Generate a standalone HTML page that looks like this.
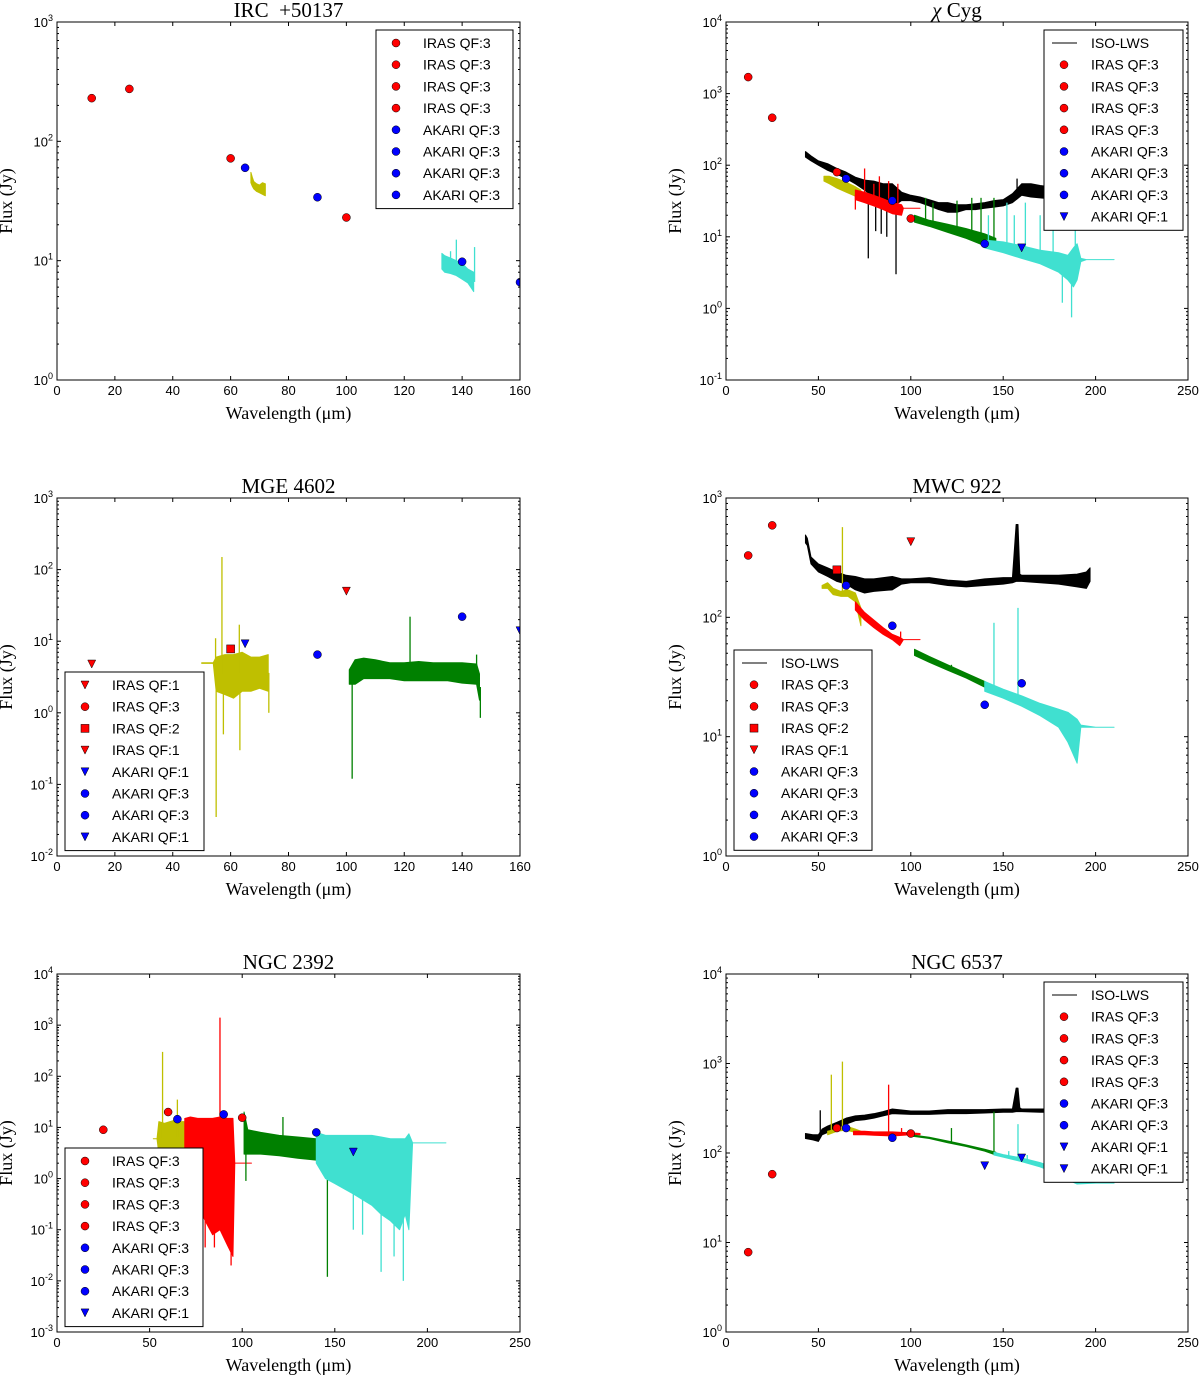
<!DOCTYPE html>
<html><head><meta charset="utf-8"><style>
html,body{margin:0;padding:0;background:#fff;}
svg{display:block;}
.tk{font:13px "Liberation Sans",sans-serif;fill:#000;}
.ttl{font:21px "Liberation Serif",serif;fill:#000;}
.axl{font:18px "Liberation Serif",serif;fill:#000;}
.lg{font:14px "Liberation Sans",sans-serif;fill:#000;}
</style></head><body>
<svg id="fig" width="1200" height="1377" viewBox="0 0 1200 1377" xmlns="http://www.w3.org/2000/svg"></svg>
<script>
// ---------- Panel 1: IRC +50137 ----------
const p1IrasX=[12,25,60,100], p1IrasY=[230,275,72,23], p1IrasShape=['o','o','o','o'];
const p1AkariX=[65,90,140,160], p1AkariY=[60,34,9.8,6.6], p1AkariShape=['o','o','o','o'];
const p1YelX=[67,67.5,68,69,70,71,72], p1YelLo=[45,42,40,38,37,36,35], p1YelHi=[55,50,46,44,43,45,44];
const p1CyaX=[133,134,136,138,140,142,144], p1CyaLo=[8.5,8,7.8,7.5,7,6.5,5.5], p1CyaHi=[11.5,11,10.5,10,9.5,8.5,8];
const p1CyaSpk=[[138,15],[144.3,13],[136,12]];
// ---------- Panel 2: chi Cyg ----------
const p2IrasX=[12,25,60,100], p2IrasY=[1700,460,80,18], p2IrasShape=['o','o','o','o'];
const p2AkariX=[65,90,140,160], p2AkariY=[65,32,8,7], p2AkariShape=['o','o','o','v'];
const p2IsoX=[43,46,50,55,60,65,70,75,80,85,90,95,100,105,110,115,120,125,130,135,140,145,150,155,160,165,170,175,180,183];
const p2IsoLo=[130,115,100,85,75,65,55,45,35,30,26,32,32,30,27,24,22,22,24,24,25,26,27,30,38,36,35,34,33,33];
const p2IsoHi=[155,135,115,105,90,80,68,62,60,55,55,42,38,36,33,30,30,28,28,29,30,32,33,40,55,55,52,50,48,48];
const p2IsoSpk=[[77,5],[92,3],[87,10],[81,12],[84,11],[157.5,65]];
const p2YelX=[53,56,60,65,70,73], p2YelLo=[60,55,48,42,37,34], p2YelHi=[70,70,65,58,50,45];
const p2RedX=[70,75,80,85,90,95,96,105], p2RedLo=[33,30,27,24,21,20,25,25], p2RedHi=[45,42,38,34,30,28,25,25];
const p2RedSpk=[[70,24],[75,90],[80,55],[83,70],[88,60],[93,55]];
const p2GrnX=[102,110,120,130,140,146], p2GrnLo=[16,14,11.5,9.5,7.5,6.5], p2GrnHi=[20,17,15,13,11,9.5];
const p2GrnSpk=[[108,35],[112,30],[125,32],[133,35],[138,35],[145,35]];
const p2CyaX=[140,150,160,170,180,185,188,190,192,195,200,210], p2CyaLo=[7,6,5,4.2,3.2,2.5,2,2.5,4.5,4.8,4.8,4.8], p2CyaHi=[9,8.5,7.5,6.5,6,5.5,7,8,5,4.8,4.8,4.8];
const p2CyaSpk=[[142,20],[152,30],[156,20],[162,30],[170,20],[177,22],[182,1.2],[187,0.75],[189,22]];
// ---------- Panel 3: MGE 4602 ----------
const p3IrasX=[12,60,100], p3IrasY=[4.8,7.8,50], p3IrasShape=['v','s','v'];
const p3AkariX=[65,90,140,160], p3AkariY=[9.2,6.5,22,14], p3AkariShape=['v','o','o','v'];
const p3YelX=[50,54,55,58,61,64,67,70,73], p3YelLo=[4.9,4.9,2,1.8,1.6,2,2,2.2,2], p3YelHi=[5,5,6,6.5,6.5,7,6,6,6.5];
const p3YelSpk=[[57,150],[55,0.035],[57.5,0.5],[63,17],[63.2,0.3],[73.2,1],[54.8,11]];
const p3GrnX=[101,103,106,110,115,120,125,130,135,140,145,146], p3GrnLo=[2.5,2.5,3,3,3,2.8,2.8,2.8,2.8,2.6,2.5,1.5], p3GrnHi=[4,5.5,5.8,5.5,5,5,5.2,5,5,5,4.8,3.5];
const p3GrnSpk=[[102,0.12],[122,22],[145,6.5],[146.3,0.85]];
// ---------- Panel 4: MWC 922 ----------
const p4IrasX=[12,25,60,100], p4IrasY=[330,590,250,430], p4IrasShape=['o','o','s','v'];
const p4AkariX=[65,90,140,160], p4AkariY=[185,85,18.5,28], p4AkariShape=['o','o','o','o'];
const p4IsoX=[43,44,46,50,55,60,65,70,75,80,90,95,100,110,120,130,140,150,155,157,158,159,160,170,180,190,195,197];
const p4IsoLo=[420,400,280,240,220,200,190,170,160,165,170,190,195,195,185,180,185,190,195,200,200,200,200,195,190,180,175,200];
const p4IsoHi=[490,460,320,280,260,240,225,220,210,210,220,210,210,215,205,200,210,215,215,600,600,230,225,225,225,230,240,260];
const p4YelX=[52,55,58,62,66,70,73], p4YelLo=[175,175,155,150,150,135,85], p4YelHi=[185,195,175,165,170,160,120];
const p4YelSpk=[[63,570]];
const p4RedX=[70,75,80,85,90,94,96,105], p4RedLo=[115,95,82,72,65,58,65,65], p4RedHi=[135,110,95,82,72,68,65,65];
const p4RedSpk=[[94.5,76]];
const p4GrnX=[102,110,120,130,140,145], p4GrnLo=[48,42,36,31,26,23], p4GrnHi=[54,47,40,34,29,26];
const p4GrnSpk=[[122,40]];
const p4CyaX=[140,150,160,170,180,185,190,192,200,210], p4CyaLo=[24,21,18,15,12,9,6,12,12,12], p4CyaHi=[29,25,22,19,17,16,14,12.5,12,12];
const p4CyaSpk=[[145,90],[158,120]];
// ---------- Panel 5: NGC 2392 ----------
const p5IrasX=[25,60,100], p5IrasY=[9,20,15.5], p5IrasShape=['o','o','o'];
const p5AkariX=[65,90,140,160], p5AkariY=[14.5,18,8,3.3], p5AkariShape=['o','o','o','v'];
const p5YelX=[52,54,55,58,61,64,67,69], p5YelLo=[6,6,3,3,3,3,3,3], p5YelHi=[6,6,13,12,13,14,13,13];
const p5YelSpk=[[57,300],[65,35]];
const p5RedX=[69,72,76,80,84,88,92,95,96,105], p5RedLo=[1,0.6,0.3,0.15,0.08,0.1,0.05,0.03,2,2], p5RedHi=[15,16,15,15,15,16,15,15,2,2];
const p5RedSpk=[[88,1400],[80,0.045],[85,0.045],[94,0.02]];
const p5GrnX=[101,103,110,120,130,140], p5GrnLo=[3,3,3,2.8,2.5,2.3], p5GrnHi=[20,9,8,7,6.5,6];
const p5GrnSpk=[[102,0.9],[122,16],[146,0.012],[145,2.5]];
const p5CyaX=[140,145,150,160,170,175,180,185,188,190,192,200,210], p5CyaLo=[2,1,0.8,0.5,0.3,0.2,0.15,0.1,0.2,0.1,5,5,5], p5CyaHi=[8,7,7,7,7,6.5,6,6,6,7.5,5,5,5];
const p5CyaSpk=[[175,0.015],[187,0.01],[182,0.03],[160,0.1],[165,0.08]];
// ---------- Panel 6: NGC 6537 ----------
const p6IrasX=[12,25,60,100], p6IrasY=[7.8,58,190,165], p6IrasShape=['o','o','o','o'];
const p6AkariX=[65,90,140,160], p6AkariY=[190,148,72,88], p6AkariShape=['o','o','v','v'];
const p6IsoX=[43,47,50,52,55,60,65,70,75,80,85,90,100,110,120,130,140,150,155,157,158,159,160,170,180];
const p6IsoLo=[145,140,135,160,170,190,210,230,235,245,260,275,270,270,275,275,280,285,285,290,290,290,290,285,285];
const p6IsoHi=[165,160,160,185,200,220,245,260,265,275,290,310,295,295,305,305,305,310,310,530,530,320,310,310,310];
const p6IsoSpk=[[51,300]];
const p6YelX=[55,60,65,70,73], p6YelLo=[160,175,180,170,165], p6YelHi=[175,185,200,185,175];
const p6YelSpk=[[57,750],[63,1050]];
const p6RedX=[69,75,80,90,100,105], p6RedLo=[160,160,158,155,160,160], p6RedHi=[175,175,172,172,168,165];
const p6RedSpk=[[88,580],[95,190]];
const p6GrnX=[100,110,120,130,140,146], p6GrnLo=[155,145,130,118,105,95], p6GrnHi=[160,150,136,123,110,102];
const p6GrnSpk=[[122,190],[145,290]];
const p6CyaX=[145,150,160,170,180,185,190,200,210], p6CyaLo=[95,90,80,70,58,50,45,46,46], p6CyaHi=[102,96,88,78,66,60,52,46,46];
const p6CyaSpk=[[153,105],[158,210],[163,95]];

// ---------- legend labels ----------
const p1Legend=['IRAS QF:3','IRAS QF:3','IRAS QF:3','IRAS QF:3','AKARI QF:3','AKARI QF:3','AKARI QF:3','AKARI QF:3'];
const p1LegendMk=['ro','ro','ro','ro','bo','bo','bo','bo'];
const p2Legend=['ISO-LWS','IRAS QF:3','IRAS QF:3','IRAS QF:3','IRAS QF:3','AKARI QF:3','AKARI QF:3','AKARI QF:3','AKARI QF:1'];
const p2LegendMk=['k-','ro','ro','ro','ro','bo','bo','bo','bv'];
const p3Legend=['IRAS QF:1','IRAS QF:3','IRAS QF:2','IRAS QF:1','AKARI QF:1','AKARI QF:3','AKARI QF:3','AKARI QF:1'];
const p3LegendMk=['rv','ro','rs','rv','bv','bo','bo','bv'];
const p4Legend=['ISO-LWS','IRAS QF:3','IRAS QF:3','IRAS QF:2','IRAS QF:1','AKARI QF:3','AKARI QF:3','AKARI QF:3','AKARI QF:3'];
const p4LegendMk=['k-','ro','ro','rs','rv','bo','bo','bo','bo'];
const p5Legend=['IRAS QF:3','IRAS QF:3','IRAS QF:3','IRAS QF:3','AKARI QF:3','AKARI QF:3','AKARI QF:3','AKARI QF:1'];
const p5LegendMk=['ro','ro','ro','ro','bo','bo','bo','bv'];
const p6Legend=['ISO-LWS','IRAS QF:3','IRAS QF:3','IRAS QF:3','IRAS QF:3','AKARI QF:3','AKARI QF:3','AKARI QF:1','AKARI QF:1'];
const p6LegendMk=['k-','ro','ro','ro','ro','bo','bo','bv','bv'];

const NS='http://www.w3.org/2000/svg';
const fig=document.getElementById('fig');
function el(tag,attrs,parent){const e=document.createElementNS(NS,tag);for(const k in attrs)e.setAttribute(k,attrs[k]);(parent||fig).appendChild(e);return e;}
const COL={y:'#bfbf00',r:'#ff0000',g:'#008000',c:'#40e0d0',k:'#000000',b:'#0000ff'};

function marker(g,x,y,shape,color){
  let m;
  if(shape==='o'){m=el('circle',{cx:x,cy:y,r:4,fill:color,stroke:'#000','stroke-width':0.5},g);}
  else if(shape==='s'){m=el('rect',{x:x-4,y:y-4,width:8,height:8,fill:color,stroke:'#000','stroke-width':0.5},g);}
  else {m=el('polygon',{points:`${x-4},${y-4} ${x+4},${y-4} ${x},${y+4}`,fill:color,stroke:'#000','stroke-width':0.5},g);}
  return m;
}

function drawPanel(c){
  const {L,R,T,B,xmax,ymin,ymax}=c;
  const sx=v=>L+(v/xmax)*(R-L);
  const sy=v=>B-(Math.log10(v)-ymin)/(ymax-ymin)*(B-T);
  const g=el('g',{});
  
  
  const cp='clip-'+c.name;
  const defs=el('defs',{},g);const clip=el('clipPath',{id:cp},defs);el('rect',{x:L,y:T,width:R-L,height:B-T},clip);
  const data=el('g',{'clip-path':`url(#${cp})`},g);
  
  
  // spectra
  c.spectra.forEach(s=>{
    let d='M'+s.x.map((x,i)=>sx(x)+','+sy(s.hi[i])).join(' L');
    d+=' L'+s.x.map((x,i)=>[x,i]).reverse().map(([x,i])=>sx(x)+','+sy(s.lo[i])).join(' L')+' Z';
    const p=el('path',{d:d,fill:COL[s.col],stroke:COL[s.col],'stroke-width':1,'stroke-linejoin':'round'},data);
    
    
    (s.spk||[]).forEach(([x,y])=>{
      let i=0;while(i<s.x.length-2&&s.x[i+1]<x)i++;
      const t=Math.max(0,Math.min(1,(x-s.x[i])/(s.x[i+1]-s.x[i])));
      const mid=Math.sqrt((s.lo[i]+(s.lo[i+1]-s.lo[i])*t)*(s.hi[i]+(s.hi[i+1]-s.hi[i])*t));
      const l=el('line',{x1:sx(x),x2:sx(x),y1:sy(mid),y2:sy(y),stroke:COL[s.col],'stroke-width':1.3},data);
      
      
    });
  });
  // photometry
  c.phot.forEach(ph=>{
    ph.x.forEach((x,i)=>{
      const m=marker(data,sx(x),sy(ph.y[i]),ph.shape[i],COL[ph.col]);
      
      
    });
  });
  // frame
  const fr=el('rect',{x:L,y:T,width:R-L,height:B-T,fill:'none',stroke:'#000','stroke-width':1},g);
  
  
  // x ticks
  for(let v=0;v<=xmax+1e-9;v+=c.xstep){
    const x=sx(v);
    el('line',{x1:x,x2:x,y1:B,y2:B-4,stroke:'#000'},g);el('line',{x1:x,x2:x,y1:T,y2:T+4,stroke:'#000'},g);
    const t=el('text',{x:x,y:B+15,'text-anchor':'middle',class:'tk'},g);t.textContent=v;
    
    
  }
  // y ticks
  for(let e=ymin;e<=ymax;e++){
    const y=sy(Math.pow(10,e));
    el('line',{x1:L,x2:L+4,y1:y,y2:y,stroke:'#000'},g);el('line',{x1:R,x2:R-4,y1:y,y2:y,stroke:'#000'},g);
    const t=el('text',{x:L-4,y:y+5,'text-anchor':'end',class:'tk'},g);
    
    
    const a=el('tspan',{},t);a.textContent='10';
    const b=el('tspan',{dy:-6,'font-size':'9px'},t);b.textContent=String(e).replace('-','-');
    if(e<ymax)for(let k=2;k<10;k++){const yy=sy(k*Math.pow(10,e));el('line',{x1:L,x2:L+2,y1:yy,y2:yy,stroke:'#000'},g);el('line',{x1:R,x2:R-2,y1:yy,y2:yy,stroke:'#000'},g);}
  }
  // title & labels
  const tt=el('text',{x:(L+R)/2,y:T-5,'text-anchor':'middle',class:'ttl'},g);tt.innerHTML=c.title;
  
  
  const xl=el('text',{x:(L+R)/2,y:B+39,'text-anchor':'middle',class:'axl'},g);xl.textContent='Wavelength (\u03bcm)';
  
  
  const yx=L-45, yc=(T+B)/2;
  const yl=el('text',{x:yx,y:yc,'text-anchor':'middle',class:'axl',transform:`rotate(-90 ${yx} ${yc})`},g);yl.textContent='Flux (Jy)';
  
  
  // legend
  const lg=el('g',{},g);
  
  
  const n=c.legend.length, h=n*21.7+5;
  el('rect',{x:c.lx,y:c.ly,width:c.lw,height:h,fill:'#fff',stroke:'#000','stroke-width':1},lg);
  c.legend.forEach((lab,i)=>{
    const y=c.ly+13+i*21.7, mk=c.legendMk[i];
    const row=el('g',{},lg);
    
    
    if(mk[1]==='-')el('line',{x1:c.lx+8,x2:c.lx+33,y1:y,y2:y,stroke:'#000','stroke-width':1},row);
    else marker(row,c.lx+20,y,mk[1],COL[mk[0]]);
    const t=el('text',{x:c.lx+47,y:y+5,class:'lg'},row);t.textContent=lab;
  });
}

function sp(name,col,x,lo,hi,spk){return {name,col,x,lo,hi,spk};}
drawPanel({name:'panel-irc50137',title:'IRC &#160;+50137',L:57,R:520,T:22,B:380,xmax:160,xstep:20,ymin:0,ymax:3,
  spectra:[sp('pacs-b-yellow','y',p1YelX,p1YelLo,p1YelHi),sp('spire-cyan','c',p1CyaX,p1CyaLo,p1CyaHi,p1CyaSpk)],
  phot:[{name:'iras',col:'r',x:p1IrasX,y:p1IrasY,shape:p1IrasShape},{name:'akari',col:'b',x:p1AkariX,y:p1AkariY,shape:p1AkariShape}],
  legend:p1Legend,legendMk:p1LegendMk,lx:376,ly:30,lw:137});
drawPanel({name:'panel-chi-cyg',title:'<tspan font-style="italic">\u03c7</tspan> Cyg',L:726,R:1188,T:22,B:380,xmax:250,xstep:50,ymin:-1,ymax:4,
  spectra:[sp('iso-lws','k',p2IsoX,p2IsoLo,p2IsoHi,p2IsoSpk),sp('yellow-spec','y',p2YelX,p2YelLo,p2YelHi),sp('red-spec','r',p2RedX,p2RedLo,p2RedHi,p2RedSpk),sp('green-spec','g',p2GrnX,p2GrnLo,p2GrnHi,p2GrnSpk),sp('cyan-spec','c',p2CyaX,p2CyaLo,p2CyaHi,p2CyaSpk)],
  phot:[{name:'iras',col:'r',x:p2IrasX,y:p2IrasY,shape:p2IrasShape},{name:'akari',col:'b',x:p2AkariX,y:p2AkariY,shape:p2AkariShape}],
  legend:p2Legend,legendMk:p2LegendMk,lx:1044,ly:30,lw:139});
drawPanel({name:'panel-mge4602',title:'MGE 4602',L:57,R:520,T:498,B:856,xmax:160,xstep:20,ymin:-2,ymax:3,
  spectra:[sp('yellow-spec','y',p3YelX,p3YelLo,p3YelHi,p3YelSpk),sp('green-spec','g',p3GrnX,p3GrnLo,p3GrnHi,p3GrnSpk)],
  phot:[{name:'iras',col:'r',x:p3IrasX,y:p3IrasY,shape:p3IrasShape},{name:'akari',col:'b',x:p3AkariX,y:p3AkariY,shape:p3AkariShape}],
  legend:p3Legend,legendMk:p3LegendMk,lx:65,ly:672,lw:139});
drawPanel({name:'panel-mwc922',title:'MWC 922',L:726,R:1188,T:498,B:856,xmax:250,xstep:50,ymin:0,ymax:3,
  spectra:[sp('iso-lws','k',p4IsoX,p4IsoLo,p4IsoHi),sp('yellow-spec','y',p4YelX,p4YelLo,p4YelHi,p4YelSpk),sp('red-spec','r',p4RedX,p4RedLo,p4RedHi,p4RedSpk),sp('green-spec','g',p4GrnX,p4GrnLo,p4GrnHi,p4GrnSpk),sp('cyan-spec','c',p4CyaX,p4CyaLo,p4CyaHi,p4CyaSpk)],
  phot:[{name:'iras',col:'r',x:p4IrasX,y:p4IrasY,shape:p4IrasShape},{name:'akari',col:'b',x:p4AkariX,y:p4AkariY,shape:p4AkariShape}],
  legend:p4Legend,legendMk:p4LegendMk,lx:734,ly:650,lw:138});
drawPanel({name:'panel-ngc2392',title:'NGC 2392',L:57,R:520,T:974,B:1332,xmax:250,xstep:50,ymin:-3,ymax:4,
  spectra:[sp('yellow-spec','y',p5YelX,p5YelLo,p5YelHi,p5YelSpk),sp('red-spec','r',p5RedX,p5RedLo,p5RedHi,p5RedSpk),sp('green-spec','g',p5GrnX,p5GrnLo,p5GrnHi,p5GrnSpk),sp('cyan-spec','c',p5CyaX,p5CyaLo,p5CyaHi,p5CyaSpk)],
  phot:[{name:'iras',col:'r',x:p5IrasX,y:p5IrasY,shape:p5IrasShape},{name:'akari',col:'b',x:p5AkariX,y:p5AkariY,shape:p5AkariShape}],
  legend:p5Legend,legendMk:p5LegendMk,lx:65,ly:1148,lw:138});
drawPanel({name:'panel-ngc6537',title:'NGC 6537',L:726,R:1188,T:974,B:1332,xmax:250,xstep:50,ymin:0,ymax:4,
  spectra:[sp('iso-lws','k',p6IsoX,p6IsoLo,p6IsoHi,p6IsoSpk),sp('yellow-spec','y',p6YelX,p6YelLo,p6YelHi,p6YelSpk),sp('red-spec','r',p6RedX,p6RedLo,p6RedHi,p6RedSpk),sp('green-spec','g',p6GrnX,p6GrnLo,p6GrnHi,p6GrnSpk),sp('cyan-spec','c',p6CyaX,p6CyaLo,p6CyaHi,p6CyaSpk)],
  phot:[{name:'iras',col:'r',x:p6IrasX,y:p6IrasY,shape:p6IrasShape},{name:'akari',col:'b',x:p6AkariX,y:p6AkariY,shape:p6AkariShape}],
  legend:p6Legend,legendMk:p6LegendMk,lx:1044,ly:982,lw:139});
</script>
</body></html>
